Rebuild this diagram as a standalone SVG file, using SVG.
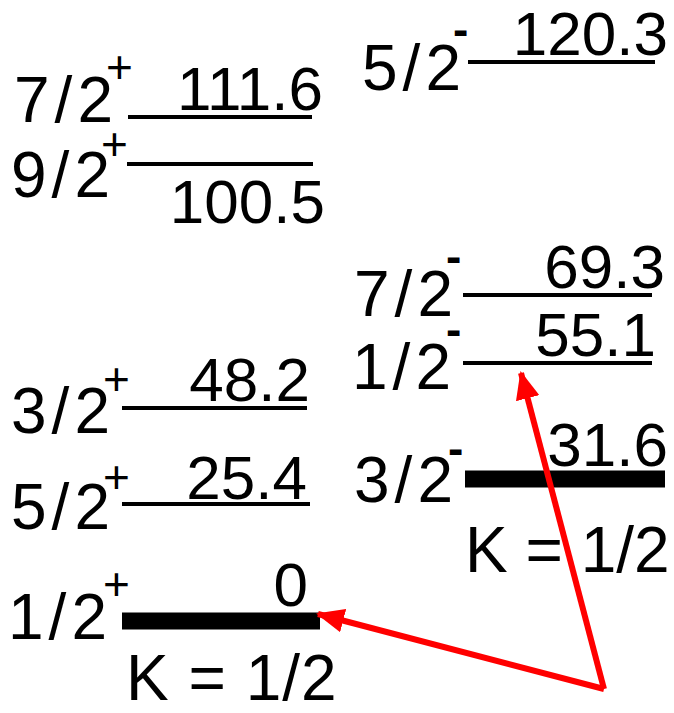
<svg xmlns="http://www.w3.org/2000/svg" width="674" height="713" viewBox="0 0 674 713">
<style>
text{font-family:"Liberation Sans",Arial,sans-serif;fill:#000}
.lab{font-size:64px;letter-spacing:5px}
.k{font-size:64px}
.val{font-size:62px;text-anchor:end}
.sup{font-size:46px}
.dash{font-size:46px;font-weight:bold}
.lv{stroke:#000;stroke-width:4;fill:none}
.gs{stroke:#000;stroke-width:17;fill:none}
.arr{stroke:#ff0000;stroke-width:6;fill:none}
</style>
<defs>
<marker id="ah" markerWidth="28" markerHeight="24" refX="26" refY="12" orient="auto" markerUnits="userSpaceOnUse" viewBox="0 0 28 24">
<path d="M0,0 L28,12 L0,24 Z" fill="#ff0000"/>
</marker>
</defs>
<rect width="674" height="713" fill="#fff"/>
<g id="lvl-7-2p"><text class="lab" x="14" y="122">7/2</text><text class="sup" x="106" y="83">+</text><line class="lv" x1="128" y1="117" x2="312" y2="117"/><text class="val" x="323" y="110">111.6</text></g>
<g id="lvl-9-2p"><text class="lab" x="11" y="197">9/2</text><text class="sup" x="101" y="160">+</text><line class="lv" x1="127" y1="164" x2="313" y2="164"/><text class="val" x="325" y="223">100.5</text></g>
<g id="lvl-5-2m"><text class="lab" x="362" y="90">5/2</text><text class="dash" x="453" y="45">-</text><line class="lv" x1="468" y1="62" x2="655" y2="62"/><text class="val" x="668" y="55">120.3</text></g>
<g id="lvl-7-2m"><text class="lab" x="354" y="316">7/2</text><text class="dash" x="446" y="272">-</text><line class="lv" x1="463" y1="295" x2="652" y2="295"/><text class="val" x="665" y="288">69.3</text></g>
<g id="lvl-1-2m"><text class="lab" x="352" y="389">1/2</text><text class="dash" x="446" y="345">-</text><line class="lv" x1="463" y1="363" x2="652" y2="363"/><text class="val" x="656" y="356">55.1</text></g>
<g id="lvl-3-2m"><text class="lab" x="354" y="502">3/2</text><text class="dash" x="448" y="464">-</text><line class="gs" x1="465" y1="479" x2="665" y2="479"/><text class="val" x="668" y="466">31.6</text><text class="k" x="465" y="572">K = 1/2</text></g>
<g id="lvl-3-2p"><text class="lab" x="11" y="433">3/2</text><text class="sup" x="103" y="395">+</text><line class="lv" x1="122" y1="408" x2="307" y2="408"/><text class="val" x="310" y="401">48.2</text></g>
<g id="lvl-5-2p"><text class="lab" x="11" y="529">5/2</text><text class="sup" x="103" y="493">+</text><line class="lv" x1="122" y1="504" x2="310" y2="504"/><text class="val" x="307" y="499">25.4</text></g>
<g id="lvl-1-2p"><text class="lab" x="8" y="639">1/2</text><text class="sup" x="103" y="600">+</text><line class="gs" x1="122" y1="621" x2="320" y2="621"/><text class="val" x="308" y="606">0</text><text class="k" x="126" y="700" font-size="61" letter-spacing="1">K = 1/2</text></g>
<g id="connectors">
<line class="arr" x1="604" y1="689" x2="318" y2="614" marker-end="url(#ah)"/>
<line class="arr" x1="604" y1="689" x2="521" y2="373" marker-end="url(#ah)"/>
</g>
</svg>
